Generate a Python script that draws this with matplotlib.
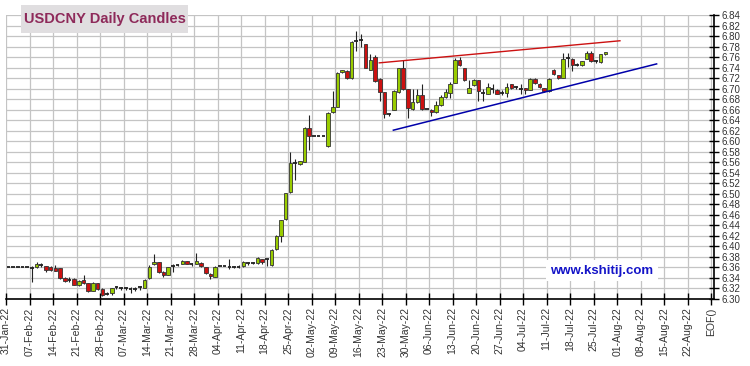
import matplotlib
matplotlib.use("Agg")
import matplotlib.pyplot as plt
from matplotlib.patches import Rectangle

plt.rcParams['font.family'] = ['Liberation Sans', 'DejaVu Sans']

# daily candles, one per trading day from 31-Jan-22 (holidays are flat)
opens = [6.36, 6.36, 6.36, 6.36, 6.36, 6.360, 6.3615, 6.364, 6.362, 6.360,
         6.359, 6.358, 6.340, 6.337, 6.338, 6.327, 6.337, 6.330, 6.316, 6.330,
         6.319, 6.310, 6.311, 6.322, 6.320, 6.320, 6.319, 6.319, 6.322, 6.321,
         6.339, 6.366, 6.370, 6.352, 6.346, 6.363, 6.365, 6.367, 6.372, 6.367,
         6.367, 6.369, 6.360, 6.348, 6.342, 6.362, 6.362, 6.362, 6.361, 6.361,
         6.363, 6.368, 6.368, 6.369, 6.376, 6.376, 6.364, 6.395, 6.419, 6.452,
         6.503, 6.559, 6.557, 6.561, 6.625, 6.609, 6.609, 6.609, 6.590, 6.655,
         6.666, 6.732, 6.734, 6.720, 6.790, 6.792, 6.784, 6.736, 6.760, 6.719,
         6.693, 6.652, 6.660, 6.693, 6.739, 6.699, 6.661, 6.674, 6.687, 6.661,
         6.660, 6.655, 6.668, 6.684, 6.692, 6.711, 6.754, 6.739, 6.692, 6.706,
         6.716, 6.692, 6.690, 6.700, 6.698, 6.692, 6.692, 6.708, 6.7025, 6.700,
         6.701, 6.698, 6.718, 6.708, 6.701, 6.695, 6.736, 6.725, 6.721, 6.7585,
         6.757, 6.746, 6.744, 6.757, 6.768, 6.752, 6.751, 6.765]
highs = [6.36, 6.36, 6.36, 6.36, 6.36, 6.362, 6.370, 6.368, 6.363, 6.363,
         6.365, 6.358, 6.341, 6.341, 6.339, 6.336, 6.346, 6.331, 6.332, 6.331,
         6.320, 6.313, 6.321, 6.324, 6.322, 6.323, 6.322, 6.322, 6.324, 6.338,
         6.365, 6.386, 6.371, 6.353, 6.361, 6.366, 6.367, 6.375, 6.373, 6.369,
         6.387, 6.370, 6.361, 6.349, 6.362, 6.362, 6.362, 6.376, 6.363, 6.364,
         6.373, 6.371, 6.370, 6.379, 6.376, 6.376, 6.395, 6.421, 6.451, 6.502,
         6.579, 6.566, 6.563, 6.627, 6.650, 6.609, 6.609, 6.609, 6.656, 6.695,
         6.731, 6.736, 6.735, 6.790, 6.810, 6.803, 6.785, 6.765, 6.764, 6.720,
         6.694, 6.654, 6.697, 6.740, 6.754, 6.700, 6.699, 6.699, 6.709, 6.661,
         6.661, 6.676, 6.688, 6.699, 6.712, 6.758, 6.760, 6.740, 6.717, 6.718,
         6.717, 6.699, 6.711, 6.708, 6.699, 6.697, 6.711, 6.709, 6.705, 6.7095,
         6.702, 6.721, 6.720, 6.711, 6.702, 6.720, 6.737, 6.726, 6.768, 6.768,
         6.758, 6.749, 6.753, 6.771, 6.771, 6.755, 6.766, 6.770]
lows = [6.36, 6.36, 6.36, 6.36, 6.36, 6.333, 6.3585, 6.360, 6.352, 6.354,
        6.353, 6.338, 6.333, 6.333, 6.326, 6.325, 6.329, 6.314, 6.315, 6.318,
        6.305, 6.307, 6.307, 6.319, 6.318, 6.317, 6.311, 6.316, 6.318, 6.320,
        6.338, 6.365, 6.350, 6.342, 6.345, 6.352, 6.363, 6.366, 6.366, 6.362,
        6.366, 6.361, 6.347, 6.338, 6.341, 6.362, 6.362, 6.357, 6.358, 6.358,
        6.361, 6.365, 6.366, 6.366, 6.367, 6.363, 6.363, 6.394, 6.409, 6.450,
        6.502, 6.527, 6.555, 6.560, 6.584, 6.609, 6.609, 6.609, 6.589, 6.654,
        6.665, 6.730, 6.719, 6.719, 6.772, 6.779, 6.739, 6.735, 6.713, 6.676,
        6.645, 6.648, 6.659, 6.692, 6.698, 6.644, 6.660, 6.673, 6.660, 6.661,
        6.648, 6.654, 6.667, 6.683, 6.682, 6.710, 6.743, 6.715, 6.691, 6.705,
        6.676, 6.676, 6.689, 6.692, 6.689, 6.687, 6.684, 6.699, 6.700, 6.690,
        6.690, 6.697, 6.709, 6.702, 6.694, 6.694, 6.726, 6.719, 6.720, 6.742,
        6.733, 6.743, 6.743, 6.756, 6.751, 6.749, 6.749, 6.764]
closes = [6.36, 6.36, 6.36, 6.36, 6.36, 6.359, 6.366, 6.364, 6.355, 6.355,
          6.354, 6.339, 6.334, 6.337, 6.327, 6.334, 6.330, 6.316, 6.330, 6.319,
          6.308, 6.309, 6.320, 6.322, 6.320, 6.320, 6.319, 6.319, 6.322, 6.337,
          6.360, 6.370, 6.352, 6.346, 6.360, 6.364, 6.365, 6.372, 6.367, 6.367,
          6.372, 6.362, 6.349, 6.343, 6.361, 6.362, 6.362, 6.361, 6.361, 6.361,
          6.370, 6.368, 6.368, 6.378, 6.371, 6.375, 6.393, 6.419, 6.450, 6.501,
          6.558, 6.558, 6.562, 6.625, 6.610, 6.609, 6.609, 6.609, 6.654, 6.665,
          6.730, 6.735, 6.720, 6.788, 6.790, 6.792, 6.740, 6.755, 6.714, 6.693,
          6.651, 6.652, 6.695, 6.739, 6.699, 6.663, 6.674, 6.687, 6.661, 6.661,
          6.656, 6.668, 6.684, 6.693, 6.709, 6.755, 6.744, 6.716, 6.702, 6.716,
          6.695, 6.692, 6.703, 6.6995, 6.690, 6.692, 6.704, 6.701, 6.7025, 6.6995,
          6.697, 6.719, 6.710, 6.703, 6.695, 6.719, 6.727, 6.721, 6.757, 6.7585,
          6.744, 6.7457, 6.752, 6.768, 6.752, 6.752, 6.765, 6.769]

tick_labels = ['31-Jan-22', '07-Feb-22', '14-Feb-22', '21-Feb-22', '28-Feb-22',
               '07-Mar-22', '14-Mar-22', '21-Mar-22', '28-Mar-22', '04-Apr-22',
               '11-Apr-22', '18-Apr-22', '25-Apr-22', '02-May-22', '09-May-22',
               '16-May-22', '23-May-22', '30-May-22', '06-Jun-22', '13-Jun-22',
               '20-Jun-22', '27-Jun-22', '04-Jul-22', '11-Jul-22', '18-Jul-22',
               '25-Jul-22', '01-Aug-22', '08-Aug-22', '15-Aug-22', '22-Aug-22',
               'EOF()']

# trend lines (day index, price)
resist_x = [79.4, 130.6]
resist_y = [6.749, 6.791]
support_x = [82.4, 138.4]
support_y = [6.621, 6.747]

fig = plt.figure(figsize=(7.5, 3.66), dpi=100)
ax = fig.add_axes([6 / 750, 1 - 299 / 366, 707.5 / 750, 284 / 366])

xs = [i + 0.5 for i in range(len(opens))]
ax.vlines(xs, lows, highs, color='#222222', lw=0.8, zorder=3)

for x, o, c in zip(xs, opens, closes):
    if abs(c - o) < 0.0015:
        ax.hlines((o + c) / 2, x - 0.38, x + 0.38, color='#222222', lw=1.3, zorder=4)
    else:
        col = '#99cc00' if c > o else '#cc1111'
        ax.bar(x, abs(c - o), bottom=min(o, c), width=0.76, color=col,
               edgecolor='#333333', linewidth=0.6, zorder=4)

ax.plot(resist_x, resist_y, color='#cc1111', lw=1.0, zorder=5)
ax.plot(support_x, support_y, color='#0000aa', lw=1.1, zorder=5)

ax.set_xlim(0, 150.5)
ax.set_ylim(6.30, 6.84)
ax.set_xticks([5 * k for k in range(len(tick_labels))])
ax.set_xticklabels(tick_labels, rotation=90, fontsize=7.5, color='#333333')
ax.set_yticks([6.30 + 0.02 * k for k in range(28)])
ax.set_yticklabels(['%.2f' % (6.30 + 0.02 * k) for k in range(28)], fontsize=7, color='#333333')
ax.yaxis.tick_right()
ax.tick_params(axis='x', direction='inout', length=8, width=1, pad=2)
ax.tick_params(axis='y', direction='inout', length=7, width=1, pad=2)
ax.grid(color='#c4c4c4', lw=0.9, zorder=0)
ax.set_axisbelow(True)
for s in ['left', 'top']:
    ax.spines[s].set_visible(False)
for s in ['bottom', 'right']:
    ax.spines[s].set_linewidth(1.2)

fig.patches.append(Rectangle((21 / 750, 1 - 33 / 366), 167 / 750, 28 / 366,
                             transform=fig.transFigure, facecolor='#e0dee0',
                             edgecolor='none', zorder=10))
fig.text(104.5 / 750, 1 - 19.5 / 366, 'USDCNY Daily Candles', ha='center', va='center',
         fontsize=10.5, fontweight='bold', color='#8e2a5a', zorder=11)

ax.text(126.8, 6.354, 'www.kshitij.com', ha='center', va='center', fontsize=9.5,
        fontweight='bold', color='#1414c8', zorder=6,
        bbox=dict(facecolor='white', edgecolor='none', pad=3))

fig.savefig('out.png', dpi=100)
